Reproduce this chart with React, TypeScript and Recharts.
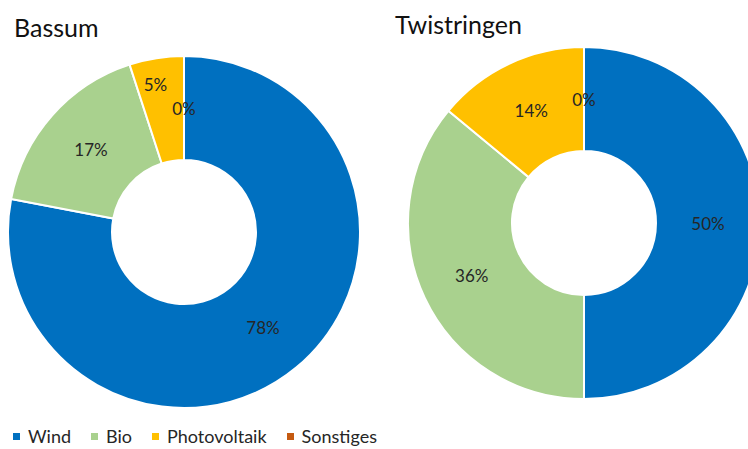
import { PieChart, Pie, Cell } from "recharts";

const categories = ["Wind", "Bio", "Photovoltaik", "Sonstiges"];
const colors = ["#0070C0", "#A9D18E", "#FFC000", "#C55A11"];
const bassumValues = [78, 17, 5, 0];
const twistringenValues = [50, 36, 14, 0];

const bassumData = categories.map((name, i) => ({ name, value: bassumValues[i] }));
const twistringenData = categories.map((name, i) => ({ name, value: twistringenValues[i] }));

const FONT = "Lato, 'Open Sans', sans-serif";
const RAD = Math.PI / 180;

// labels sit mid-ring; tiny non-zero slices get pushed outward so they don't collide with the 0% label
const renderLabel = (props: any) => {
  const { cx, cy, midAngle, innerRadius, outerRadius, value, percent } = props;
  const small = value > 0 && percent < 0.08;
  const r = small ? outerRadius - 26 : (innerRadius + outerRadius) / 2;
  const ang = small ? midAngle + 2 : midAngle;
  const x = cx + r * Math.cos(-ang * RAD);
  const y = cy + r * Math.sin(-ang * RAD);
  return (
    <text
      x={x}
      y={y}
      textAnchor="middle"
      dominantBaseline="central"
      fill="#262626"
      fontSize={17}
      fontFamily={FONT}
    >
      {`${value}%`}
    </text>
  );
};

export default function App() {
  return (
    <div style={{ position: "absolute", left: 0, top: 0, width: 748, height: 449, background: "#fff", overflow: "hidden", fontFamily: FONT }}>
      <div style={{ position: "absolute", left: 14, top: 12, fontSize: 25, color: "#111" }}>Bassum</div>
      <div style={{ position: "absolute", left: 395, top: 9, fontSize: 25, color: "#111" }}>Twistringen</div>
      <PieChart width={748} height={449} margin={{ top: 0, right: 0, bottom: 0, left: 0 }} style={{ position: "absolute", left: 0, top: 0 }}>
        <Pie
          data={bassumData}
          dataKey="value"
          nameKey="name"
          cx={184}
          cy={232}
          innerRadius={72}
          outerRadius={176}
          startAngle={90}
          endAngle={-270}
          stroke="#fff"
          strokeWidth={2}
          label={renderLabel}
          labelLine={false}
          isAnimationActive={false}
        >
          {bassumData.map((d, i) => (
            <Cell key={d.name} fill={colors[i]} />
          ))}
        </Pie>
        <Pie
          data={twistringenData}
          dataKey="value"
          nameKey="name"
          cx={584}
          cy={223}
          innerRadius={72}
          outerRadius={176}
          startAngle={90}
          endAngle={-270}
          stroke="#fff"
          strokeWidth={2}
          label={renderLabel}
          labelLine={false}
          isAnimationActive={false}
        >
          {twistringenData.map((d, i) => (
            <Cell key={d.name} fill={colors[i]} />
          ))}
        </Pie>
      </PieChart>
      <div style={{ position: "absolute", left: 13, top: 425, display: "flex", alignItems: "center", fontSize: 18, color: "#262626" }}>
        {categories.map((c, i) => (
          <div key={c} style={{ display: "flex", alignItems: "center", marginRight: 20 }}>
            <span style={{ display: "inline-block", width: 7, height: 7, background: colors[i], marginRight: 8 }} />
            <span>{c}</span>
          </div>
        ))}
      </div>
    </div>
  );
}
